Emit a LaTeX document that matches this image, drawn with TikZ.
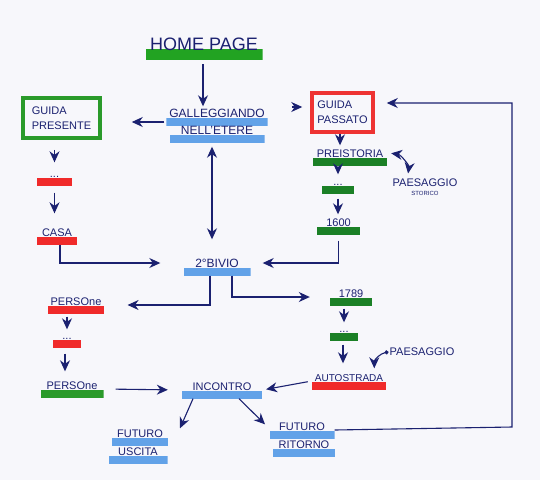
\documentclass[tikz,border=0pt]{standalone}
\usepackage{fontspec}
\setmainfont{Liberation Sans}
\usetikzlibrary{arrows.meta,calc}
\definecolor{ink}{HTML}{1B2170}
\definecolor{paper}{HTML}{F7F7FB}
\definecolor{hlgreen}{HTML}{22A322}
\definecolor{dkgreen}{HTML}{1B8026}
\definecolor{hlred}{HTML}{F02A2A}
\definecolor{hlblue}{HTML}{62A2E8}
\definecolor{boxgreen}{HTML}{2A9A2A}
\definecolor{boxred}{HTML}{EE3333}
\tikzset{
  >={Stealth[length=11pt,width=10pt]},
  flow/.style={->,draw=ink,line width=1.1pt},
  twoway/.style={<->,draw=ink,line width=1.1pt},
  dotflow/.style={{Circle[length=4pt]}->,draw=ink,line width=1.1pt},
  word/.style={text=ink,font=\fontsize{11}{14}\selectfont,inner xsep=3pt,inner ysep=1pt,
               text height=8pt,text depth=7pt},
  hl/.style={word,path picture={\fill[#1] (path picture bounding box.south west) rectangle
               ($(path picture bounding box.south east)!.46!(path picture bounding box.north east)$);}},
  guide/.style={draw=#1,line width=3.5pt,text=ink,align=left,font=\fontsize{11}{15}\selectfont,
                inner sep=3pt},
  plain/.style={text=ink,font=\fontsize{11}{12}\selectfont,inner sep=1pt,align=center},
}
\begin{document}
\begin{tikzpicture}[x=1pt,y=-1pt]
  \fill[paper] (0,0) rectangle (540,480);
  \useasboundingbox (0,0) rectangle (540,480);

  % top
  \node[hl=hlgreen,font=\fontsize{18}{20}\selectfont,text height=13pt,text depth=9pt,
        minimum width=117pt] (home) at (204,48) {HOME PAGE};
  \node[hl=hlblue,minimum width=95pt,font=\fontsize{12}{14}\selectfont] (gallA) at (217,117) {GALLEGGIANDO};
  \node[hl=hlblue,minimum width=95pt,font=\fontsize{12}{14}\selectfont] (gallB) at (217,134) {NELL'ETERE};
  \node[guide=boxgreen,minimum width=77pt,minimum height=40pt] (guidapres) at (61.5,118) {GUIDA\\PRESENTE};
  \node[guide=boxred,minimum width=61pt,minimum height=39pt] (guidapass) at (342.5,112.5) {GUIDA\\PASSATO};

  % left column
  \node[hl=hlred,minimum width=35pt] (dotsR1) at (54.5,177) {...};
  \node[hl=hlred,minimum width=40pt] (casa) at (57,236) {CASA};
  \node[hl=hlred,minimum width=56pt] (persR) at (76,305) {PERSOne};
  \node[hl=hlred,minimum width=28pt] (dotsR2) at (67,339) {...};
  \node[hl=boxgreen,minimum width=63pt] (persG) at (72,389) {PERSOne};

  % right column
  \node[hl=dkgreen,minimum width=74pt] (preist) at (350,157) {PREISTORIA};
  \node[plain] (paes) at (425,187) {PAESAGGIO\\[-3pt]{\fontsize{6}{7}\selectfont STORICO}};
  \node[hl=dkgreen,minimum width=32pt] (dotsG1) at (338,185) {...};
  \node[hl=dkgreen,minimum width=43pt] (n1600) at (338.5,226) {1600};
  \node[hl=dkgreen,minimum width=42pt] (n1789) at (351,297) {1789};
  \node[hl=dkgreen,minimum width=28pt] (dotsG2) at (344,332) {...};
  \node[hl=hlred,minimum width=68pt,font=\fontsize{10}{12}\selectfont] (autostr) at (349,381) {AUTOSTRADA};
  \node[plain] (paes2) at (422,352) {PAESAGGIO};

  % centre
  \node[hl=hlblue,minimum width=67pt,font=\fontsize{12}{14}\selectfont] (bivio) at (217,267) {2°BIVIO};
  \node[hl=hlblue,minimum width=80pt] (incontro) at (222,390) {INCONTRO};
  \node[hl=hlblue,minimum width=56pt] (futUa) at (140,437) {FUTURO};
  \node[hl=hlblue,minimum width=59pt] (futUb) at (138,455) {USCITA};
  \node[hl=hlblue,minimum width=65pt] (futRa) at (302,430) {FUTURO};
  \node[hl=hlblue,minimum width=62pt] (futRb) at (304,448) {RITORNO};

  \coordinate (rc1) at (512,427);
  \coordinate (rc2) at (512,103);

  % connectors
  \draw[flow,shorten <=4pt,shorten >=2pt] (home.south -| 203,0) -- (gallA.north -| 203,0);
  \draw[flow,shorten <=5pt,shorten >=30pt] (gallB.west |- 0,122) -- (guidapres.east |- 0,122);
  \draw[flow,shorten <=24pt,shorten >=8pt] (gallA.east |- 0,107) -- (guidapass.west |- 0,107);
  \draw[twoway,shorten <=4pt,shorten >=19pt] (gallB.south -| 212,0) -- (bivio.north -| 212,0);
  \draw[flow,shorten <=10pt,shorten >=6pt] (dotsR1.north |- guidapres.south) -- (dotsR1.north);
  \draw[flow,shorten <=7pt,shorten >=14pt] (dotsR1.south) -- (dotsR1.south |- casa.north);
  \draw[flow,shorten >=23pt] ([xshift=3pt]casa.south) |- ([yshift=4pt]bivio.west);
  \draw[flow,shorten <=6pt,shorten >=12pt] (n1600.south) |- ([yshift=4pt]bivio.east);
  \draw[flow,shorten >=3pt] (guidapass.south -| 340,0) -- (preist.north -| 340,0);
  \draw[twoway,shorten <=2pt,shorten >=4pt] ([xshift=2pt,yshift=4pt]preist.east) to[bend left=45] ([xshift=16pt]paes.north west);
  \draw[flow,shorten <=4pt,shorten >=2pt] (dotsG1.north |- preist.south) -- (dotsG1.north);
  \draw[flow,shorten <=5pt,shorten >=3pt] (dotsG1.south) -- (dotsG1.south |- n1600.north);
  \draw[flow,shorten >=23pt] ([xshift=-7pt]bivio.south) |- (persR.east);
  \draw[flow,shorten >=20pt] ([xshift=15pt]bivio.south) |- (n1789.west);
  \draw[flow,shorten <=3pt,shorten >=1pt] (persR.south -| dotsR2.north) -- (dotsR2.north);
  \draw[flow,shorten <=6pt,shorten >=9pt] ([xshift=-2pt]dotsR2.south) -- ([xshift=-2pt]dotsR2.south |- persG.north);
  \draw[flow,shorten <=3pt,shorten >=1pt] (n1789.south -| dotsG2.north) -- (dotsG2.north);
  \draw[flow,shorten <=4pt,shorten >=9pt] ([xshift=-1pt]dotsG2.south) -- ([xshift=-1pt]dotsG2.south |- autostr.north);
  \draw[dotflow] (paes2.west) to[out=190,in=90] ([xshift=-12pt,yshift=4pt]autostr.north east);
  \draw[flow,shorten <=12pt,shorten >=14pt] (persG.east) -- (incontro.west);
  \draw[flow,shorten <=4pt,shorten >=4pt] (autostr.west) -- (incontro.east);
  \draw[flow] ([xshift=-29pt]incontro.south) -- ([xshift=40pt]futUa.north);
  \draw[flow] ([xshift=17pt]incontro.south) -- ([xshift=-37pt,yshift=-3pt]futRa.north);
  \draw[flow,shorten >=12pt] ([yshift=0pt]futRa.east) -- (rc1) -- (rc2) -- (rc2 -| guidapass.east);
\end{tikzpicture}
\end{document}
